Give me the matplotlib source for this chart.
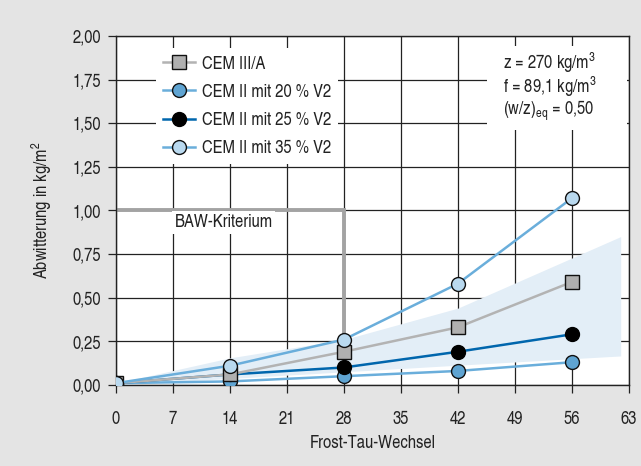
import matplotlib
matplotlib.use("Agg")
import matplotlib.pyplot as plt
from matplotlib.patches import Rectangle

plt.rcParams["font.family"] = ["TeX Gyre Heros Cn", "DejaVu Sans"]
plt.rcParams["mathtext.fontset"] = "custom"
plt.rcParams["mathtext.rm"] = "TeX Gyre Heros Cn"

# data
cycles = [0, 14, 28, 42, 56]
cem3a = [0.01, 0.06, 0.19, 0.33, 0.59]
cem2_20 = [0.01, 0.02, 0.05, 0.08, 0.13]
cem2_25 = [0.01, 0.06, 0.10, 0.19, 0.29]
cem2_35 = [0.01, 0.11, 0.26, 0.58, 1.07]

# shaded range
band_x = [0, 14, 28, 42, 62]
band_hi = [0.01, 0.155, 0.26, 0.44, 0.85]
band_lo = [0.0, 0.037, 0.075, 0.113, 0.166]

# BAW criterion
baw_x = [0, 28, 28]
baw_y = [1.0, 1.0, 0.26]

info_lines = ["z = 270 kg/m$^3$", "f = 89,1 kg/m$^3$", "(w/z)$_{\\mathrm{eq}}$ = 0,50"]

xticks = [0, 7, 14, 21, 28, 35, 42, 49, 56, 63]
yticks = [0, 0.25, 0.5, 0.75, 1.0, 1.25, 1.5, 1.75, 2.0]

fs = 13
bg = "#e4e4e4"
fig = plt.figure(figsize=(6.41, 4.66), dpi=100, facecolor=bg)
ax = fig.add_axes([0.181, 0.174, 0.8, 0.749])
ax.set_facecolor("white")

ax.fill_between(band_x, band_lo, band_hi, color="#e3eef7", lw=0, zorder=1)
ax.plot(baw_x, baw_y, color="#a3a3a3", lw=2.8, zorder=1.5, solid_joinstyle="miter")
ax.text(7.2, 0.93, "BAW-Kriterium", fontsize=fs, va="center", ha="left", color="#222",
        bbox=dict(facecolor="white", edgecolor="none", pad=2), zorder=1.6)

ms = 10
ax.plot(cycles, cem2_20, color="#6aaedb", lw=1.8, marker="o", ms=ms, mfc="#5fa4d2",
        mec="#111", mew=1, label="CEM II mit 20 % V2", zorder=3)
ax.plot(cycles, cem2_25, color="#0066ad", lw=1.8, marker="o", ms=ms, mfc="black",
        mec="black", mew=1, label="CEM II mit 25 % V2", zorder=3)
ax.plot(cycles, cem3a, color="#b3b3b3", lw=1.8, marker="s", ms=ms, mfc="#b0b0b0",
        mec="#111", mew=1, label="CEM III/A", zorder=3)
ax.plot(cycles, cem2_35, color="#6aaedb", lw=1.8, marker="o", ms=ms, mfc="#b9d9ef",
        mec="#111", mew=1, label="CEM II mit 35 % V2", zorder=3)

h, l = ax.get_legend_handles_labels()
order = [2, 0, 1, 3]
leg = ax.legend([h[i] for i in order], [l[i] for i in order], loc="upper left",
                bbox_to_anchor=(0.06, 0.99), fontsize=fs, frameon=True, fancybox=False,
                framealpha=1, facecolor="white", edgecolor="none", handlelength=1.75,
                labelspacing=0.62, borderpad=0.4, handletextpad=0.4)
leg.set_zorder(2)
for t in leg.get_texts():
    t.set_color("#222")

# white block behind the parameter text
ax.add_patch(Rectangle((45.6, 1.46), 17.2, 0.48, facecolor="white", edgecolor="none", zorder=1.8))
for i, s in enumerate(info_lines):
    ax.text(47.6, 1.845 - i * 0.137, s, fontsize=fs, va="center", ha="left",
            color="#222", zorder=2)

ax.set_xlim(0, 63)
ax.set_ylim(0, 2.0)
ax.set_xticks(xticks)
ax.set_yticks(yticks)
ax.set_yticklabels([f"{v:.2f}".replace(".", ",") for v in yticks])
ax.tick_params(direction="out", length=6, width=0.9, color="#222", labelsize=fs,
               labelcolor="#222")
ax.tick_params(axis="x", pad=13)
ax.tick_params(axis="y", pad=5)
ax.set_axisbelow(True)
ax.grid(True, color="#222", lw=0.9)
for s in ax.spines.values():
    s.set_color("#222")
    s.set_linewidth(1.0)

ax.set_xlabel("Frost-Tau-Wechsel", fontsize=fs, color="#222", labelpad=5)
ax.set_ylabel("Abwitterung in kg/m$^2$", fontsize=fs, color="#222", labelpad=13)

fig.savefig("out.png", dpi=100, facecolor=bg)
